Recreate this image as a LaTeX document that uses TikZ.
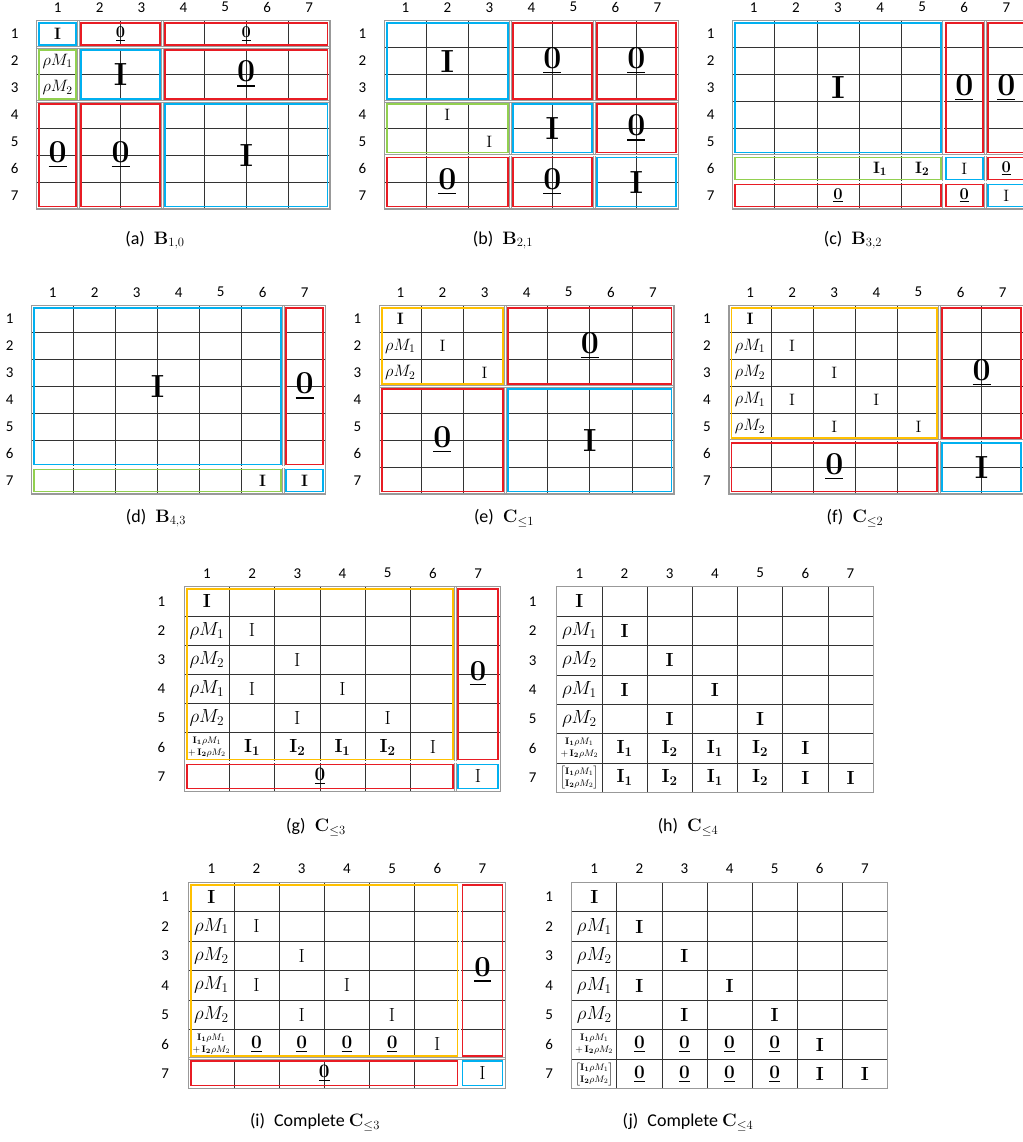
\RequirePackage{fix-cm}
\documentclass[tikz,border=0pt]{standalone}
\usepackage{amsmath, amssymb}
\usepackage[no-math]{fontspec}
\setmainfont{Carlito}
\usepackage{tikz}
\definecolor{boxblue}{RGB}{0,176,240}
\definecolor{boxred}{RGB}{232,28,36}
\definecolor{boxgreen}{RGB}{146,208,80}
\definecolor{boxgold}{RGB}{255,192,0}
\tikzset{
	gridline/.style={draw=black!80, line width=0.7pt},
	sepline/.style={draw=gray!75, line width=0.6pt, double=white, double distance=1.3pt},
	frame/.style={draw=gray!80, line width=1.2pt},
	num/.style={font=\fontsize{15}{15}\selectfont, inner sep=0pt},
	cellt/.style={inner sep=0pt},
	sumcell/.style={inner sep=0pt, align=center, font=\fontsize{9.5}{12}\selectfont},
	blue box/.style={draw=boxblue, line width=1.6pt},
	red box/.style={draw=boxred, line width=1.6pt},
	green box/.style={draw=boxgreen, line width=1.6pt},
	gold box/.style={draw=boxgold, line width=1.6pt},
	caption/.style={font=\fontsize{18}{18}\selectfont, inner sep=0pt},
	panel/.style n args={4}{shift={(#1,#2)}, x=#3pt, y=-#4pt}
}
\def\ssz{16.5}\def\bsz{32}\def\rgap{22pt}
% cell texts
\newcommand\BI{{\fontsize{\bsz}{\bsz}\selectfont$\mathbf{I}$}}
\newcommand\BO{{\fontsize{\bsz}{\bsz}\selectfont$\underline{\mathbf{0}}$}}
\newcommand\sI{{\fontsize{\ssz}{\ssz}\selectfont$\mathbf{I}$}}
\newcommand\rI{{\fontsize{\ssz}{\ssz}\selectfont$\mathrm{I}$}}
\newcommand\sO{{\fontsize{\ssz}{\ssz}\selectfont$\underline{\mathbf{0}}$}}
\newcommand\sIi[1]{{\fontsize{\ssz}{\ssz}\selectfont$\mathbf{I}_{\mathbf{#1}}$}}
\newcommand\rM[1]{{\fontsize{\ssz}{\ssz}\selectfont$\rho M_{#1}$}}
% 7x7 grid with its numbers
\newcommand\matgrid{%
	\foreach \k in {1,...,6} {
		\draw[gridline] (\k,0) -- (\k,7);
		\draw[gridline] (0,\k) -- (7,\k);
	}
	\foreach \k in {1,...,7} {
		\node[num, yshift=13.5pt] (\pname-col\k) at (\k-0.5,0) {\k};
		\node[num, xshift=-\rgap] (\pname-row\k) at (0,\k-0.5) {\k};
	}
}
\newcommand\seps[2]{%
	\foreach \k in {#1} \draw[sepline] (\k,0) -- (\k,7);
	\foreach \k in {#2} \draw[sepline] (0,\k) -- (7,\k);
	\draw[frame] (0,0) rectangle (7,7);
}
\newcommand\bx[5]{\draw[#1] ([shift={(2.5pt,-2.5pt)}]#2-1,#3-1) rectangle ([shift={(-2.5pt,2.5pt)}]#4,#5);}
\newcommand\blk[6]{%
	\bx{#1}{#2}{#3}{#4}{#5}
	\node[cellt] (\pname-b#2-#3) at ({(#2+#4-1)/2},{(#3+#5-1)/2}) {#6};
}
\newcommand\cellat[3]{\node[cellt] (\pname-c#1-#2) at (#1-0.5,#2-0.5) {#3};}
\newcommand\lowrows[1]{%
	\cellat{1}{1}{\sI}
	\cellat{1}{2}{\rM1} \cellat{1}{3}{\rM2} \cellat{1}{4}{\rM1} \cellat{1}{5}{\rM2}
	\cellat{2}{2}{#1} \cellat{3}{3}{#1} \cellat{2}{4}{#1}
	\cellat{4}{4}{#1} \cellat{3}{5}{#1} \cellat{5}{5}{#1}
}
\newcommand\sumrow{\node[sumcell] (\pname-c1-6) at (0.5,5.5) {$\mathbf{I}_{\mathbf{1}}\rho M_1$\\$+\,\mathbf{I}_{\mathbf{2}}\rho M_2$};}
\newcommand\stackrow{\node[cellt, font=\fontsize{9.5}{12}\selectfont] (\pname-c1-7) at (0.5,6.5) {$\begin{bmatrix}\mathbf{I}_{\mathbf{1}}\rho M_1\\ \mathbf{I}_{\mathbf{2}}\rho M_2\end{bmatrix}$};}

\begin{document}
\begin{tikzpicture}[x=1pt, y=-1pt]
\useasboundingbox (0,0) rectangle (1022,1142);
\fill[white] (0,0) rectangle (1022,1142);

% (a)
\begin{scope}[panel={36.7}{20.7}{41.9}{26.9}]
	\def\pname{a}
	\matgrid
	\seps{1,3}{1,3}
	\blk{blue box}{1}{1}{1}{1}{\sI}
	\blk{red box}{2}{1}{3}{1}{\sO}
	\blk{red box}{4}{1}{7}{1}{\sO}
	\bx{green box}{1}{2}{1}{3}
	\cellat{1}{2}{\rM1}
	\cellat{1}{3}{\rM2}
	\blk{blue box}{2}{2}{3}{3}{\BI}
	\blk{red box}{4}{2}{7}{3}{\BO}
	\blk{red box}{1}{4}{1}{7}{\BO}
	\blk{red box}{2}{4}{3}{7}{\BO}
	\blk{blue box}{4}{4}{7}{7}{\BI}
\end{scope}
% (b)
\begin{scope}[panel={384.3}{20.7}{42}{26.9}]
	\def\pname{b}
	\matgrid
	\seps{3,5}{3,5}
	\blk{blue box}{1}{1}{3}{3}{\BI}
	\blk{red box}{4}{1}{5}{3}{\BO}
	\blk{red box}{6}{1}{7}{3}{\BO}
	\bx{green box}{1}{4}{3}{5}
	\cellat{2}{4}{\rI}
	\cellat{3}{5}{\rI}
	\blk{blue box}{4}{4}{5}{5}{\BI}
	\blk{red box}{6}{4}{7}{5}{\BO}
	\blk{red box}{1}{6}{3}{7}{\BO}
	\blk{red box}{4}{6}{5}{7}{\BO}
	\blk{blue box}{6}{6}{7}{7}{\BI}
\end{scope}
% (c)
\begin{scope}[panel={732.7}{20.7}{42.1}{26.9}]
	\def\pname{c}
	\matgrid
	\seps{5,6}{5,6}
	\blk{blue box}{1}{1}{5}{5}{\BI}
	\blk{red box}{6}{1}{6}{5}{\BO}
	\blk{red box}{7}{1}{7}{5}{\BO}
	\bx{green box}{1}{6}{5}{6}
	\cellat{4}{6}{\sIi1}
	\cellat{5}{6}{\sIi2}
	\blk{blue box}{6}{6}{6}{6}{\rI}
	\blk{red box}{7}{6}{7}{6}{\sO}
	\blk{red box}{1}{7}{5}{7}{\sO}
	\blk{red box}{6}{7}{6}{7}{\sO}
	\blk{blue box}{7}{7}{7}{7}{\rI}
\end{scope}
% (d)
\begin{scope}[panel={31.7}{305.7}{42}{26.9}]
	\def\pname{d}
	\matgrid
	\seps{6}{6}
	\blk{blue box}{1}{1}{6}{6}{\BI}
	\blk{red box}{7}{1}{7}{6}{\BO}
	\bx{green box}{1}{7}{6}{7}
	\cellat{6}{7}{\sI}
	\blk{blue box}{7}{7}{7}{7}{\sI}
\end{scope}
% (e)
\begin{scope}[panel={379.3}{305.7}{42.1}{26.9}]
	\def\pname{e}
	\matgrid
	\seps{3}{3}
	\bx{gold box}{1}{1}{3}{3}
	\cellat{1}{1}{\sI}
	\cellat{1}{2}{\rM1}
	\cellat{1}{3}{\rM2}
	\cellat{2}{2}{\rI}
	\cellat{3}{3}{\rI}
	\blk{red box}{4}{1}{7}{3}{\BO}
	\blk{red box}{1}{4}{3}{7}{\BO}
	\blk{blue box}{4}{4}{7}{7}{\BI}
\end{scope}
% (f)
\begin{scope}[panel={729}{305.7}{42.1}{26.9}]
	\def\pname{f}
	\matgrid
	\seps{5}{5}
	\bx{gold box}{1}{1}{5}{5}
	\lowrows{\rI}
	\blk{red box}{6}{1}{7}{5}{\BO}
	\blk{red box}{1}{6}{5}{7}{\BO}
	\blk{blue box}{6}{6}{7}{7}{\BI}
\end{scope}
% (g)
\begin{scope}[panel={184.3}{586.7}{45.2}{29.2}]
	\def\pname{g}\def\ssz{19}\def\bsz{29}\def\rgap{23pt}
	\matgrid
	\seps{6}{6}
	\bx{gold box}{1}{1}{6}{6}
	\lowrows{\rI}
	\sumrow
	\cellat{2}{6}{\sIi1} \cellat{3}{6}{\sIi2} \cellat{4}{6}{\sIi1} \cellat{5}{6}{\sIi2}
	\cellat{6}{6}{\rI}
	\blk{red box}{7}{1}{7}{6}{\BO}
	\blk{red box}{1}{7}{6}{7}{\sO}
	\blk{blue box}{7}{7}{7}{7}{\rI}
\end{scope}
% (h)
\begin{scope}[panel={556.7}{586.7}{45.2}{29.4}]
	\def\pname{h}\def\ssz{19}\def\rgap{24pt}
	\matgrid
	\draw[frame] (0,0) rectangle (7,7);
	\lowrows{\sI}
	\sumrow
	\stackrow
	\foreach \r in {6,7} {
		\cellat{2}{\r}{\sIi1} \cellat{3}{\r}{\sIi2} \cellat{4}{\r}{\sIi1} \cellat{5}{\r}{\sIi2}
		\cellat{6}{\r}{\sI}
	}
	\cellat{7}{7}{\sI}
\end{scope}
% (i)
\begin{scope}[panel={188.7}{882.3}{45.2}{29.4}]
	\def\pname{i}\def\ssz{19}\def\bsz{29}\def\rgap{23.5pt}
	\matgrid
	\seps{6}{6}
	\bx{gold box}{1}{1}{6}{6}
	\lowrows{\rI}
	\sumrow
	\foreach \c in {2,...,5} \cellat{\c}{6}{\sO};
	\cellat{6}{6}{\rI}
	\blk{red box}{7}{1}{7}{6}{\BO}
	\blk{red box}{1}{7}{6}{7}{\sO}
	\blk{blue box}{7}{7}{7}{7}{\rI}
\end{scope}
% (j)
\begin{scope}[panel={571.7}{882.3}{45.1}{29.5}]
	\def\pname{j}\def\ssz{19}\def\rgap{22.5pt}
	\matgrid
	\draw[frame] (0,0) rectangle (7,7);
	\lowrows{\sI}
	\sumrow
	\stackrow
	\foreach \r in {6,7} {
		\foreach \c in {2,...,5} \cellat{\c}{\r}{\sO};
		\cellat{6}{\r}{\sI}
	}
	\cellat{7}{7}{\sI}
\end{scope}

% captions
\node[caption] (cap-a) at (155,240) {(a)\enspace$\mathbf{B}_{1,0}$};
\node[caption] (cap-b) at (503,240) {(b)\enspace$\mathbf{B}_{2,1}$};
\node[caption] (cap-c) at (853,240) {(c)\enspace$\mathbf{B}_{3,2}$};
\node[caption] (cap-d) at (156,518) {(d)\enspace$\mathbf{B}_{4,3}$};
\node[caption] (cap-e) at (504,518) {(e)\enspace$\mathbf{C}_{\le 1}$};
\node[caption] (cap-f) at (855,518) {(f)\enspace$\mathbf{C}_{\le 2}$};
\node[caption] (cap-g) at (316,827) {(g)\enspace$\mathbf{C}_{\le 3}$};
\node[caption] (cap-h) at (688,827) {(h)\enspace$\mathbf{C}_{\le 4}$};
\node[caption] (cap-i) at (315,1122) {(i)\enspace Complete $\mathbf{C}_{\le 3}$};
\node[caption] (cap-j) at (688,1122) {(j)\enspace Complete $\mathbf{C}_{\le 4}$};
\end{tikzpicture}
\end{document}
